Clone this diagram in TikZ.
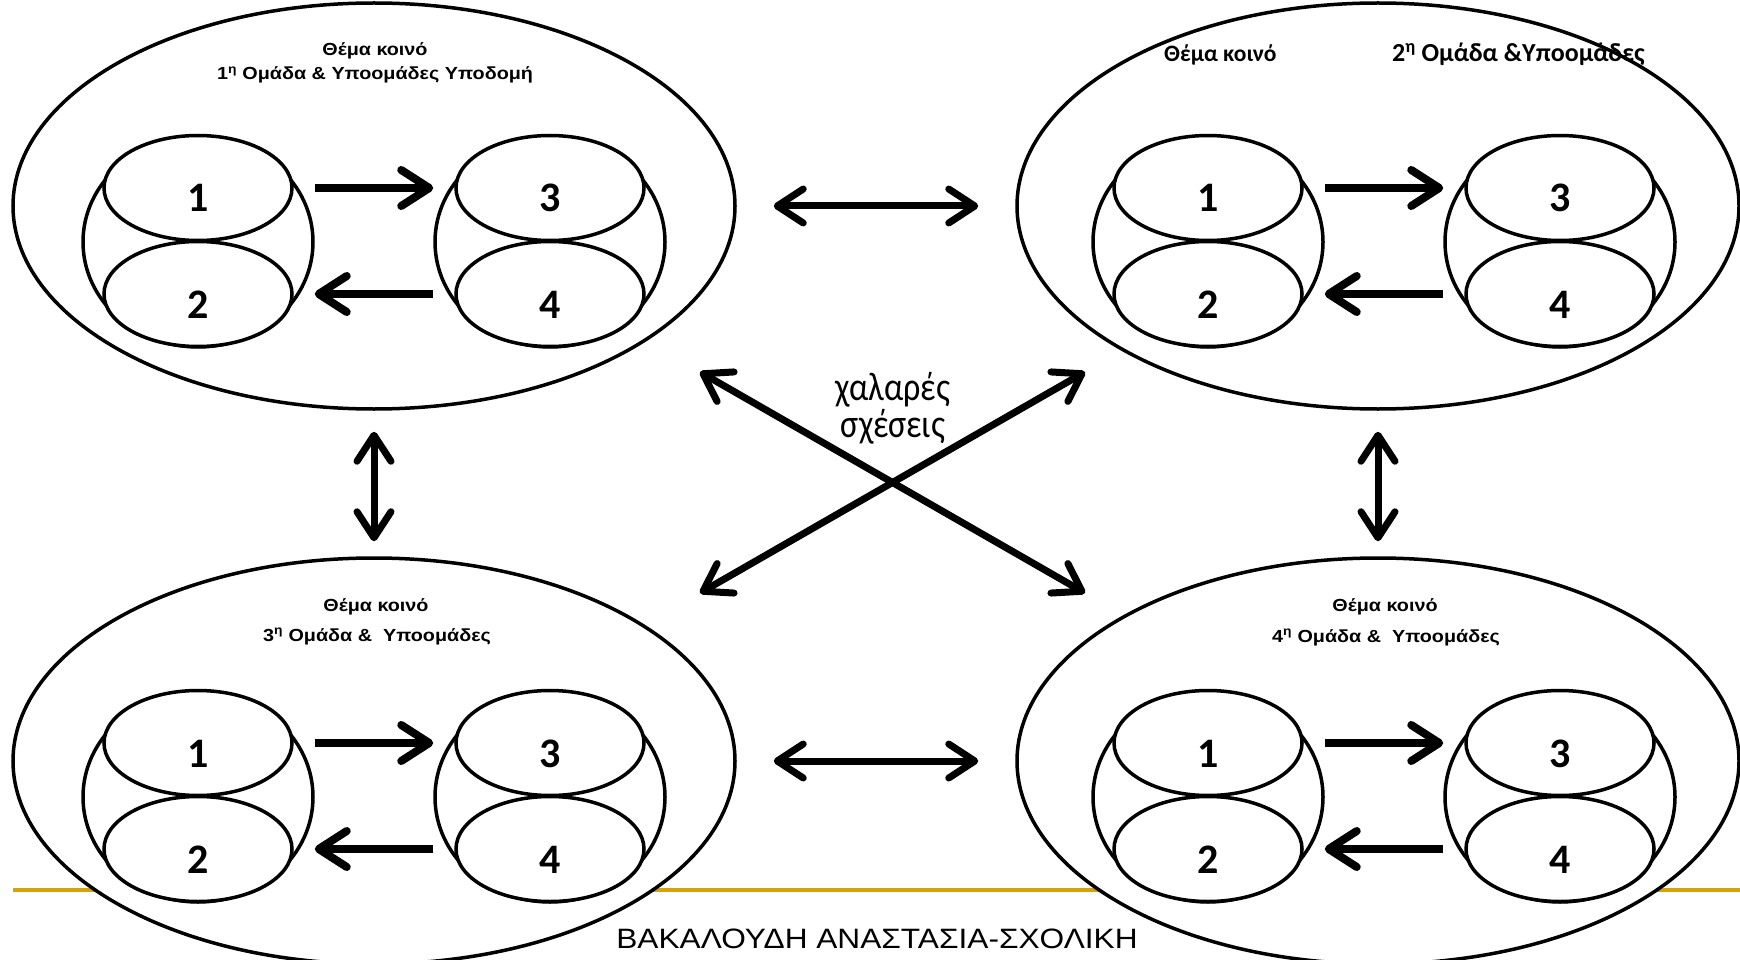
\documentclass[tikz,border=0pt]{standalone}
\usepackage{fontspec}
\setmainfont{Liberation Sans}
\newfontfamily\widesans[FakeStretch=1.13]{Liberation Sans}
\newfontfamily\calibri{Carlito}
\newfontfamily\narrowcal[FakeStretch=0.85]{Carlito}
\usetikzlibrary{shapes.geometric,arrows.meta}
\definecolor{my gold}{HTML}{D4A20C}
\tikzset{
  bigring/.style={ellipse, draw, line width=3.5pt, fill=white, inner sep=0pt, minimum width=722pt, minimum height=406pt},
  pairring/.style={ellipse, draw, line width=3.5pt, fill=white, inner sep=0pt, minimum width=230pt, minimum height=210pt},
  cellring/.style={ellipse, draw, line width=3.5pt, fill=white, inner sep=0pt, minimum width=188pt, minimum height=105pt},
  digit/.style={font=\calibri\bfseries\fontsize{42}{50}\selectfont, inner sep=0pt, anchor=base},
  heading/.style={font=\widesans\bfseries\fontsize{17.5}{21}\selectfont, inner sep=0pt, anchor=base},
  headingc/.style={font=\calibri\bfseries\fontsize{26}{30}\selectfont, inner sep=0pt, anchor=base west},
  flow/.style={line width=8pt, -{Straight Barb[length=28pt,width=36pt,round]}},
  link/.style={line width=7pt, {Straight Barb[length=26pt,width=34pt,round]}-{Straight Barb[length=26pt,width=34pt,round]}}
}

\begin{document}
\begin{tikzpicture}[x=1pt, y=-1pt]
  \useasboundingbox (0,0) rectangle (1740,960);
  \draw [line width=4pt, my gold] (13,890) -- (1740,890);
  \foreach \q/\dx/\dy/\cx in {a/0/0/374, b/1010/0/368, c/0/555/374, d/1010/555/368} {
    \begin{scope}[shift={(\dx,\dy)}]
      \node [bigring] (\q) at (\cx,206) {};
      \node [pairring] (\q-left) at (198,242) {};
      \node [pairring] (\q-right) at (550,242) {};
      \node [cellring] (\q1) at (198,188) {};
      \node [cellring] (\q2) at (198,294) {};
      \node [cellring] (\q3) at (550,188) {};
      \node [cellring] (\q4) at (550,294) {};
      \foreach \k in {1,...,4}
        \node [digit] (\q\k-num) at ([yshift=-24pt]\q\k.center) {\k};
      \draw [flow] (\q-left.east |- \q1.center) -- (\q-right.west |- \q1.center);
      \draw [flow] (\q-right.west |- \q2.center) -- (\q-left.east |- \q2.center);
    \end{scope}
  }
  \node [heading] (a-theme) at (375,56) {Θέμα κοινό};
  \node [heading] (a-team) at (375,80) {1\textsuperscript{η} Ομάδα \& Υποομάδες Υποδομή};
  \node [headingc, font=\calibri\bfseries\fontsize{23.5}{28}\selectfont] (b-theme) at (1164,62) {Θέμα κοινό};
  \node [headingc] (b-team) at (1392,62) {2\textsuperscript{η} Ομάδα \&Υποομάδες};
  \node [heading] (c-theme) at (376,611) {Θέμα κοινό};
  \node [heading] (c-team) at (377,641) {3\textsuperscript{η} Ομάδα \&\ \ Υποομάδες};
  \node [heading] (d-theme) at (1385,611) {Θέμα κοινό};
  \node [heading] (d-team) at (1386,642) {4\textsuperscript{η} Ομάδα \&\ \ Υποομάδες};
  \draw [link, shorten <=37pt, shorten >=37pt] (a.east) -- (b.west);
  \draw [link, shorten <=37pt, shorten >=37pt] (c.east) -- (d.west);
  \draw [link, shorten <=21pt, shorten >=15pt] (a.south) -- (c.north);
  \draw [link, shorten <=21pt, shorten >=15pt] (b.south) -- (d.north);
  \coordinate (x-nw) at (700,372);
  \coordinate (x-se) at (1085,593);
  \coordinate (x-ne) at (1085,372);
  \coordinate (x-sw) at (700,593);
  \draw [link] (x-nw) -- (x-se);
  \draw [link] (x-ne) -- (x-sw);
  \node [font=\narrowcal\fontsize{40}{37}\selectfont, align=center, inner sep=0pt, anchor=base] (loose) at (893,437) {χαλαρές\\σχέσεις};
  \node [font=\widesans\fontsize{28}{34}\selectfont, inner sep=0pt, anchor=base] (author) at (877,948) {ΒΑΚΑΛΟΥΔΗ ΑΝΑΣΤΑΣΙΑ-ΣΧΟΛΙΚΗ};
\end{tikzpicture}
\end{document}
